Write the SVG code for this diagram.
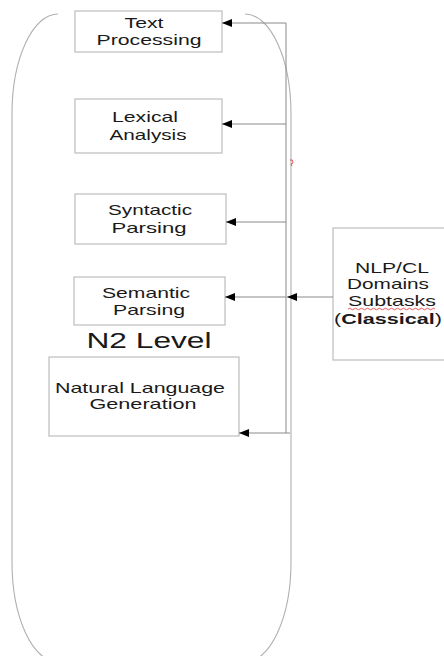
<svg xmlns="http://www.w3.org/2000/svg" width="444" height="656" viewBox="0 0 444 656">
<defs>
<marker id="ah" markerWidth="11" markerHeight="8" refX="10" refY="4" orient="auto" markerUnits="userSpaceOnUse">
<path d="M0,0 L10,4 L0,8 Z" fill="#000"/>
</marker>
</defs>
<style>
.box{fill:#fff;stroke:#bdbdbd;stroke-width:1.2}
.t{font-family:"Liberation Sans",Arial,sans-serif;font-size:15px;fill:#1a1a1a;text-anchor:middle}
.big{font-size:22px}
.conn{stroke:#8a8a8a;stroke-width:1;fill:none}
.arr{stroke:#8a8a8a;stroke-width:1;fill:none;marker-end:url(#ah)}
.frame{fill:none;stroke:#b0b0b0;stroke-width:1.1}
</style>
<rect width="444" height="656" fill="#fff"/>
<g id="frame">
<path class="frame" d="M58,14 A46,100 0 0 0 12,114 L12,562 A46,100 0 0 0 58,662 L245,662 A46,100 0 0 0 291,562 L291,114 A46,100 0 0 0 245,14"/>
</g>
<g id="text-processing">
<rect class="box" x="75" y="11" width="147" height="41"/>
<text class="t" x="144" y="28" textLength="39" lengthAdjust="spacingAndGlyphs">Text</text>
<text class="t" x="149" y="45" textLength="105" lengthAdjust="spacingAndGlyphs">Processing</text>
</g>
<g id="lexical-analysis">
<rect class="box" x="75" y="99" width="147" height="54"/>
<text class="t" x="145" y="122" textLength="66" lengthAdjust="spacingAndGlyphs">Lexical</text>
<text class="t" x="148" y="140" textLength="77" lengthAdjust="spacingAndGlyphs">Analysis</text>
</g>
<g id="syntactic-parsing">
<rect class="box" x="75" y="194" width="151" height="50"/>
<text class="t" x="150" y="215" textLength="84" lengthAdjust="spacingAndGlyphs">Syntactic</text>
<text class="t" x="149" y="233" textLength="75" lengthAdjust="spacingAndGlyphs">Parsing</text>
</g>
<g id="semantic-parsing">
<rect class="box" x="74" y="277" width="151" height="48"/>
<text class="t" x="146" y="298" textLength="88" lengthAdjust="spacingAndGlyphs">Semantic</text>
<text class="t" x="149" y="315" textLength="72" lengthAdjust="spacingAndGlyphs">Parsing</text>
</g>
<g id="n2-level">
<text class="t big" x="149" y="348" textLength="125" lengthAdjust="spacingAndGlyphs">N2 Level</text>
</g>
<g id="nlg">
<rect class="box" x="49" y="357" width="190" height="79"/>
<text class="t" x="140" y="393" textLength="170" lengthAdjust="spacingAndGlyphs">Natural Language</text>
<text class="t" x="143" y="409" textLength="107" lengthAdjust="spacingAndGlyphs">Generation</text>
</g>
<g id="nlp-cl">
<rect class="box" x="333" y="228" width="115" height="132"/>
<text class="t" x="392" y="273" textLength="74" lengthAdjust="spacingAndGlyphs">NLP/CL</text>
<text class="t" x="388" y="289" textLength="82" lengthAdjust="spacingAndGlyphs">Domains</text>
<text class="t" x="392" y="306" textLength="88" lengthAdjust="spacingAndGlyphs">Subtasks</text>
<path d="M348,309 q1.5,-1.5 3,0 t3,0 t3,0 t3,0 t3,0 t3,0 t3,0 t3,0 t3,0 t3,0 t3,0 t3,0 t3,0 t3,0 t3,0 t3,0 t3,0 t3,0 t3,0 t3,0 t3,0 t3,0 t3,0 t3,0 t3,0 t3,0 t3,0 t3,0 t3,0" fill="none" stroke="#e03030" stroke-width="0.8"/>
<text class="t" x="388" y="324" textLength="108" lengthAdjust="spacingAndGlyphs">(<tspan font-weight="bold">Classical</tspan>)</text>
</g>
<g id="connectors">
<line class="conn" x1="286" y1="23" x2="286" y2="433"/>
<line class="arr" x1="286" y1="23" x2="222" y2="23"/>
<line class="arr" x1="286" y1="124" x2="222" y2="124"/>
<line class="arr" x1="286" y1="222" x2="226" y2="222"/>
<line class="arr" x1="286" y1="297" x2="225" y2="297"/>
<line class="arr" x1="290" y1="433" x2="239" y2="433"/>
<line class="arr" x1="333" y1="297" x2="287" y2="297"/>
</g>
<path d="M290,160 q3,-1 3,2 q0,2 -2,2 l1,2" fill="none" stroke="#e03030" stroke-width="0.8"/>
</svg>
